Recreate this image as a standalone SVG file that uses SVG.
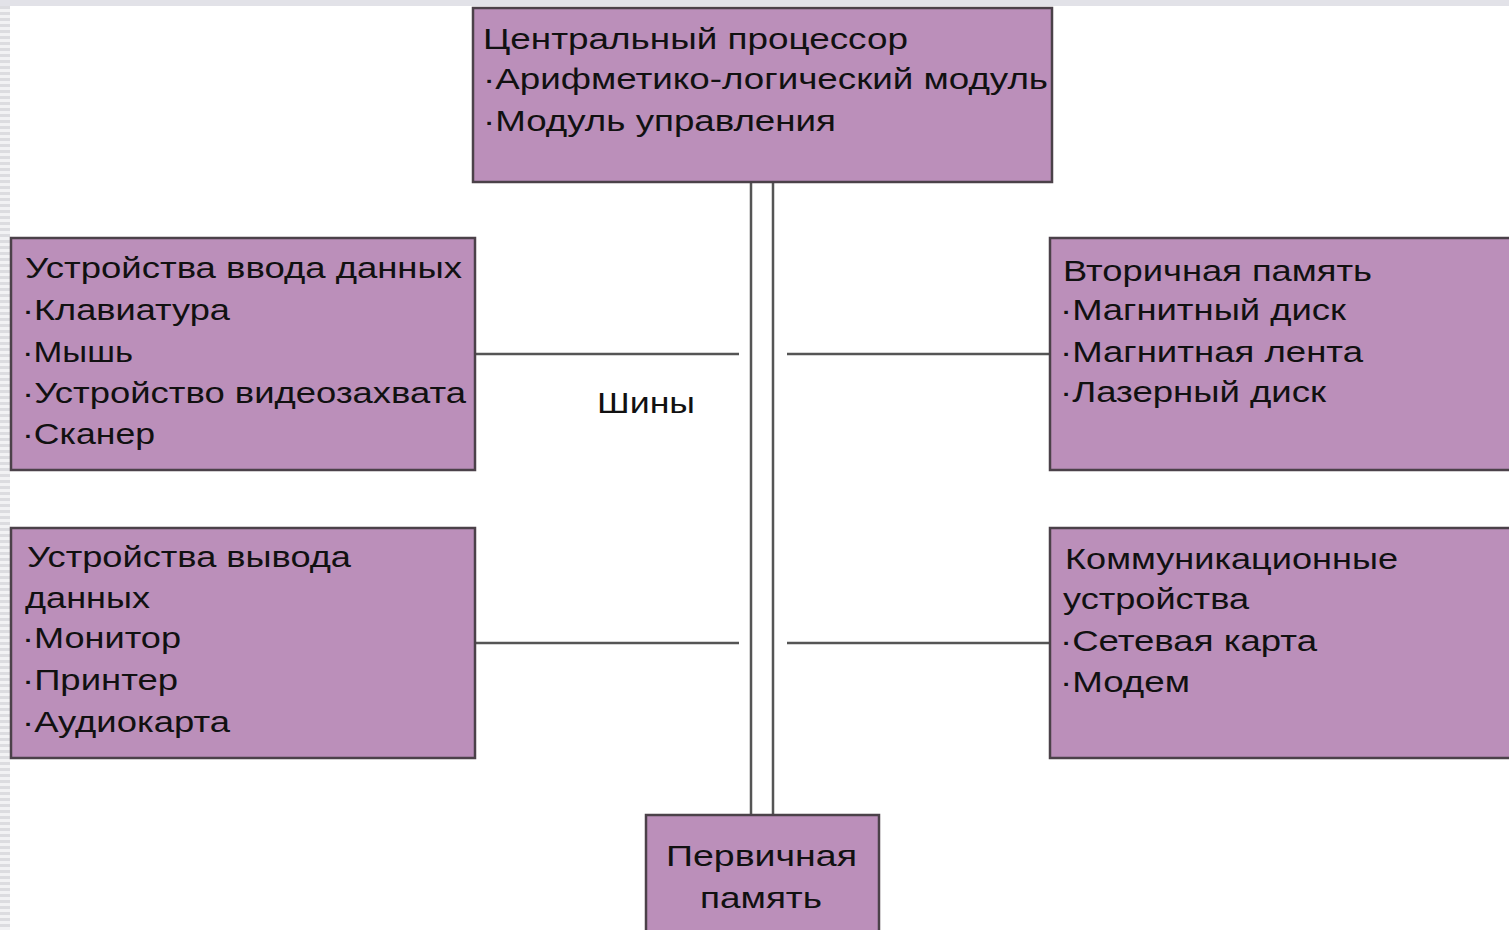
<svg xmlns="http://www.w3.org/2000/svg" width="1509" height="930" viewBox="0 0 1509 930">
<style>
.box{fill:#bb8fba;stroke:#4b4149;stroke-width:2.5}
.t{font-family:"Liberation Sans",Arial,sans-serif;font-size:29px;fill:#111}
.c{stroke:#555;stroke-width:2.5;fill:none}
</style>
<defs>
<pattern id="stripes" width="10" height="6" patternUnits="userSpaceOnUse">
<rect width="10" height="6" fill="#f2f2f4"/>
<rect width="10" height="3" fill="#dcdce0"/>
</pattern>
</defs>
<rect width="1509" height="930" fill="#ffffff"/>
<rect x="0" y="0" width="1509" height="6" fill="#e2e2e8"/>
<rect x="0" y="6" width="10" height="924" fill="url(#stripes)"/>
<g id="connectors">
<line class="c" x1="751" y1="182" x2="751" y2="815"/>
<line class="c" x1="773" y1="182" x2="773" y2="815"/>
<line class="c" x1="475" y1="354" x2="739" y2="354"/>
<line class="c" x1="787" y1="354" x2="1050" y2="354"/>
<line class="c" x1="475" y1="643" x2="739" y2="643"/>
<line class="c" x1="787" y1="643" x2="1050" y2="643"/>
<text class="t" x="597" y="413" textLength="98" lengthAdjust="spacingAndGlyphs">Шины</text>
</g>
<g id="cpu">
<rect class="box" x="473" y="8" width="579" height="174"/>
<text class="t" x="483" y="49" textLength="425" lengthAdjust="spacingAndGlyphs">Центральный процессор</text>
<text class="t" x="483" y="89" textLength="565" lengthAdjust="spacingAndGlyphs">·Арифметико-логический модуль</text>
<text class="t" x="483" y="131" textLength="353" lengthAdjust="spacingAndGlyphs">·Модуль управления</text>
</g>
<g id="input">
<rect class="box" x="11" y="238" width="464" height="232"/>
<text class="t" x="25" y="278" textLength="437" lengthAdjust="spacingAndGlyphs">Устройства ввода данных</text>
<text class="t" x="22" y="320" textLength="208" lengthAdjust="spacingAndGlyphs">·Клавиатура</text>
<text class="t" x="22" y="362" textLength="111" lengthAdjust="spacingAndGlyphs">·Мышь</text>
<text class="t" x="22" y="403" textLength="444" lengthAdjust="spacingAndGlyphs">·Устройство видеозахвата</text>
<text class="t" x="22" y="444" textLength="133" lengthAdjust="spacingAndGlyphs">·Сканер</text>
</g>
<g id="output">
<rect class="box" x="11" y="528" width="464" height="230"/>
<text class="t" x="27" y="567" textLength="324" lengthAdjust="spacingAndGlyphs">Устройства вывода</text>
<text class="t" x="25" y="608" textLength="125" lengthAdjust="spacingAndGlyphs">данных</text>
<text class="t" x="22" y="648" textLength="159" lengthAdjust="spacingAndGlyphs">·Монитор</text>
<text class="t" x="22" y="690" textLength="156" lengthAdjust="spacingAndGlyphs">·Принтер</text>
<text class="t" x="22" y="732" textLength="208" lengthAdjust="spacingAndGlyphs">·Аудиокарта</text>
</g>
<g id="secondary">
<rect class="box" x="1050" y="238" width="462" height="232"/>
<text class="t" x="1063" y="281" textLength="309" lengthAdjust="spacingAndGlyphs">Вторичная память</text>
<text class="t" x="1060" y="320" textLength="286" lengthAdjust="spacingAndGlyphs">·Магнитный диск</text>
<text class="t" x="1060" y="362" textLength="303" lengthAdjust="spacingAndGlyphs">·Магнитная лента</text>
<text class="t" x="1060" y="402" textLength="266" lengthAdjust="spacingAndGlyphs">·Лазерный диск</text>
</g>
<g id="comm">
<rect class="box" x="1050" y="528" width="462" height="230"/>
<text class="t" x="1065" y="569" textLength="333" lengthAdjust="spacingAndGlyphs">Коммуникационные</text>
<text class="t" x="1063" y="609" textLength="186" lengthAdjust="spacingAndGlyphs">устройства</text>
<text class="t" x="1060" y="651" textLength="257" lengthAdjust="spacingAndGlyphs">·Сетевая карта</text>
<text class="t" x="1060" y="692" textLength="130" lengthAdjust="spacingAndGlyphs">·Модем</text>
</g>
<g id="primary">
<rect class="box" x="646" y="815" width="233" height="120"/>
<text class="t" x="666" y="866" textLength="191" lengthAdjust="spacingAndGlyphs">Первичная</text>
<text class="t" x="700" y="908" textLength="122" lengthAdjust="spacingAndGlyphs">память</text>
</g>
</svg>
